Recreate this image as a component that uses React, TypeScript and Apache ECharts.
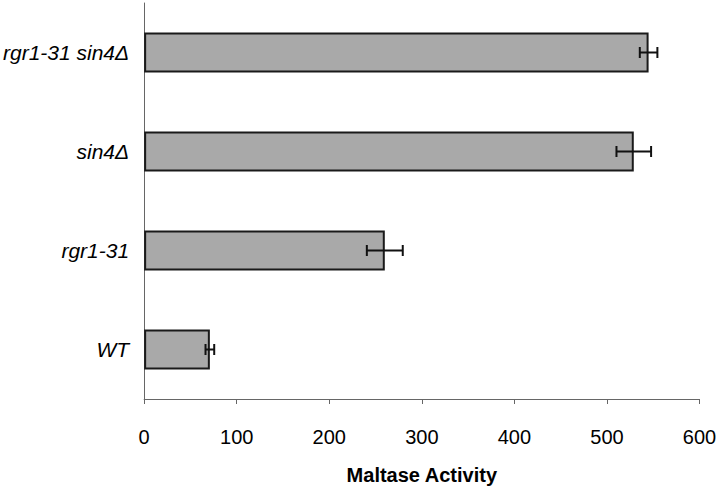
import React, { useEffect, useRef } from "react";
import * as echarts from "echarts";

const categories = ["WT", "rgr1-31", "sin4Δ", "rgr1-31 sin4Δ"];
const activity = [71, 260, 529, 545];
const errors = [4.7, 19.4, 18.7, 9.5];
const xTicks = [0, 100, 200, 300, 400, 500, 600];

export default function App() {
  const ref = useRef<HTMLDivElement>(null);
  useEffect(() => {
    if (!ref.current) return;
    const chart = echarts.init(ref.current, null, { renderer: "svg" });
    const errData = categories.map((_, i) => [i, activity[i] - errors[i], activity[i] + errors[i]]);
    const font = "'Liberation Sans', Arial, sans-serif";
    chart.setOption({
      animation: false,
      backgroundColor: "#fff",
      grid: { left: 142.5, right: 20.5, top: 3, bottom: 81.7, containLabel: false },
      xAxis: {
        type: "value",
        min: xTicks[0],
        max: xTicks[xTicks.length - 1],
        interval: 100,
        name: "Maltase Activity",
        nameLocation: "middle",
        nameGap: 66,
        nameTextStyle: { fontFamily: font, fontSize: 20, fontWeight: "bold", color: "#000" },
        axisLine: { show: true, lineStyle: { color: "#666", width: 1 } },
        axisTick: { show: true, inside: false, length: 5, lineStyle: { color: "#666" } },
        axisLabel: { fontFamily: font, fontSize: 20, color: "#000", margin: 28 },
        splitLine: { show: false },
      },
      yAxis: {
        type: "category",
        data: categories,
        axisLine: { show: true, lineStyle: { color: "#666", width: 1 } },
        axisTick: { show: false },
        axisLabel: { fontFamily: font, fontSize: 21, fontStyle: "italic", color: "#000", margin: 15 },
      },
      series: [
        {
          type: "bar",
          data: activity,
          barWidth: 40,
          itemStyle: { color: "#a9a9a9", borderColor: "#1a1a1a", borderWidth: 2 },
        },
        {
          type: "custom",
          data: errData,
          encode: { x: [1, 2], y: 0 },
          z: 10,
          renderItem: (params: any, api: any) => {
            const idx = api.value(0);
            const lo = api.coord([api.value(1), idx]);
            const hi = api.coord([api.value(2), idx]);
            const h = 5.5;
            const style = { stroke: "#111", lineWidth: 2 };
            return {
              type: "group",
              children: [
                { type: "line", shape: { x1: lo[0], y1: lo[1], x2: hi[0], y2: hi[1] }, style },
                { type: "line", shape: { x1: lo[0], y1: lo[1] - h, x2: lo[0], y2: lo[1] + h }, style },
                { type: "line", shape: { x1: hi[0], y1: hi[1] - h, x2: hi[0], y2: hi[1] + h }, style },
              ],
            };
          },
        },
      ],
    });
    return () => chart.dispose();
  }, []);
  return <div ref={ref} style={{ width: 720, height: 490, position: "absolute", left: 0, top: 0 }} />;
}
